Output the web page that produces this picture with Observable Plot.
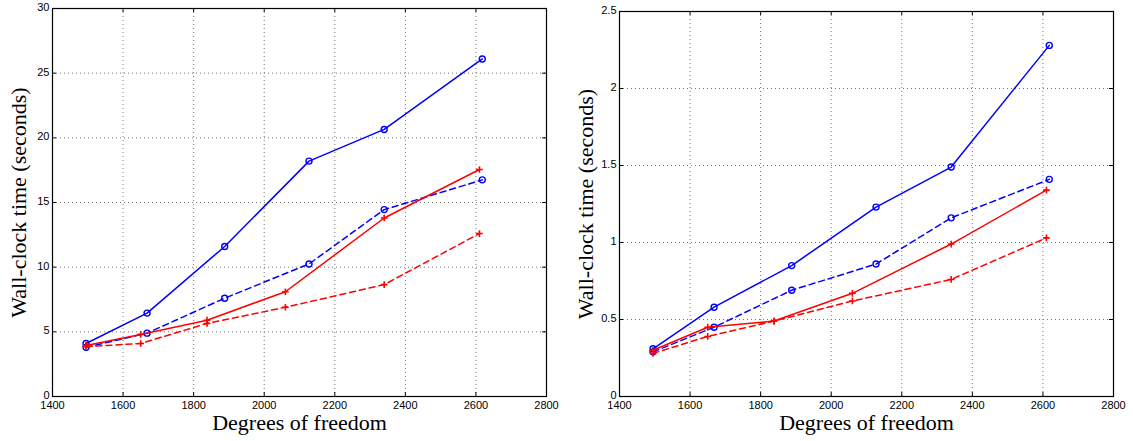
<!DOCTYPE html>
<html><head><meta charset="utf-8">
<script src="https://cdn.jsdelivr.net/npm/d3@7"></script>
<script src="https://cdn.jsdelivr.net/npm/@observablehq/plot@0.6"></script>
<style>
body{margin:0;background:#fff;}
#wrap{display:flex;width:1133px;height:441px;background:#fff;}
svg{background:#fff;}
</style></head><body><div id="wrap"></div>
<script>
// x positions (degrees of freedom)
const xBlue = [1495, 1668, 1888, 2127, 2340, 2618];
const xRed  = [1495, 1650, 1838, 2060, 2340, 2610];

// Left panel values (seconds)
const leftBlueSolid  = [4.1, 6.45, 11.6, 18.2, 20.65, 26.1];
const leftBlueDashed = [3.8, 4.9, 7.6, 10.25, 14.45, 16.75];
const leftRedSolid   = [3.95, 4.8, 5.9, 8.1, 13.8, 17.55];
const leftRedDashed  = [3.85, 4.1, 5.65, 6.9, 8.65, 12.6];

// Right panel values (seconds)
const rightBlueSolid  = [0.31, 0.58, 0.85, 1.23, 1.49, 2.28];
const rightBlueDashed = [0.29, 0.45, 0.69, 0.86, 1.16, 1.41];
const rightRedSolid   = [0.30, 0.45, 0.49, 0.67, 0.99, 1.34];
const rightRedDashed  = [0.28, 0.39, 0.49, 0.62, 0.76, 1.03];

// Tick labels
const xTicks = [1400, 1600, 1800, 2000, 2200, 2400, 2600, 2800];
const leftYTicks = [0, 5, 10, 15, 20, 25, 30];
const rightYTicks = [0, 0.5, 1, 1.5, 2, 2.5];

const xLabel = "Degrees of freedom";
const yLabel = "Wall-clock time (seconds)";

const toRows = (xs, ys) => xs.map((x, i) => ({x, y: ys[i]}));

function panel({width, ml, mr, mt, mb, yDomain, yTicks, series, yLabelDx}) {
  const height = 441;
  const W = width - ml - mr, H = height - mt - mb;
  const tickFont = "Liberation Sans, Arial, Helvetica, sans-serif";
  const labelFont = "Liberation Serif, Times New Roman, serif";
  const marks = [
    Plot.gridX(xTicks, {stroke: "#777", strokeOpacity: 1, strokeDasharray: "1,3"}),
    Plot.gridY(yTicks, {stroke: "#777", strokeOpacity: 1, strokeDasharray: "1,3"}),
    // inward ticks on all four sides
    Plot.tickX(xTicks, {x: d => d, insetTop: H - 4, stroke: "black"}),
    Plot.tickX(xTicks, {x: d => d, insetBottom: H - 4, stroke: "black"}),
    Plot.tickY(yTicks, {y: d => d, insetRight: W - 4, stroke: "black"}),
    Plot.tickY(yTicks, {y: d => d, insetLeft: W - 4, stroke: "black"}),
    Plot.axisX(xTicks, {tickSize: 0, tickPadding: 5, tickFormat: d => String(d), label: null, fontSize: 11, fontFamily: tickFont, fill: "black"}),
    Plot.axisY(yTicks, {tickSize: 0, tickPadding: 3, dy: -1, tickFormat: d => String(d), label: null, fontSize: 11, fontFamily: tickFont, fill: "black"}),
  ];
  for (const s of series) {
    const rows = toRows(s.x, s.y);
    marks.push(Plot.line(rows, {x: "x", y: "y", stroke: s.color, strokeWidth: 1.5, strokeDasharray: s.dash ? "6,4" : null}));
    if (s.symbol === "circle") {
      marks.push(Plot.dot(rows, {x: "x", y: "y", r: 3, stroke: s.color, fill: "none", strokeWidth: 1.4}));
    } else {
      marks.push(Plot.dot(rows, {x: "x", y: "y", r: 2.3, symbol: "plus", stroke: s.color, strokeWidth: 1.6}));
    }
  }
  marks.push(Plot.frame({stroke: "black", strokeWidth: 1.2}));
  marks.push(Plot.text([xLabel], {text: d => d, frameAnchor: "bottom", dy: 26, fontSize: 22, fontFamily: labelFont, fill: "black", textAnchor: "middle", lineAnchor: "middle"}));
  marks.push(Plot.text([yLabel], {text: d => d, frameAnchor: "left", dx: yLabelDx, rotate: -90, fontSize: 22, fontFamily: labelFont, fill: "black", textAnchor: "middle", lineAnchor: "middle"}));
  return Plot.plot({
    width, height,
    marginLeft: ml, marginRight: mr, marginTop: mt, marginBottom: mb,
    style: {background: "#fff", overflow: "visible"},
    x: {domain: [1400, 2800]},
    y: {domain: yDomain},
    marks
  });
}

const wrap = document.getElementById("wrap");
wrap.appendChild(panel({
  width: 566, ml: 52, mr: 20, mt: 8, mb: 45,
  yDomain: [0, 30], yTicks: leftYTicks, yLabelDx: -34,
  series: [
    {x: xBlue, y: leftBlueSolid, color: "#0000ff", dash: false, symbol: "circle"},
    {x: xBlue, y: leftBlueDashed, color: "#0000ff", dash: true, symbol: "circle"},
    {x: xRed, y: leftRedSolid, color: "#ff0000", dash: false, symbol: "plus"},
    {x: xRed, y: leftRedDashed, color: "#ff0000", dash: true, symbol: "plus"}
  ]
}));
wrap.appendChild(panel({
  width: 567, ml: 53, mr: 20, mt: 11, mb: 45,
  yDomain: [0, 2.5], yTicks: rightYTicks, yLabelDx: -34,
  series: [
    {x: xBlue, y: rightBlueSolid, color: "#0000ff", dash: false, symbol: "circle"},
    {x: xBlue, y: rightBlueDashed, color: "#0000ff", dash: true, symbol: "circle"},
    {x: xRed, y: rightRedSolid, color: "#ff0000", dash: false, symbol: "plus"},
    {x: xRed, y: rightRedDashed, color: "#ff0000", dash: true, symbol: "plus"}
  ]
}));
</script></body></html>
